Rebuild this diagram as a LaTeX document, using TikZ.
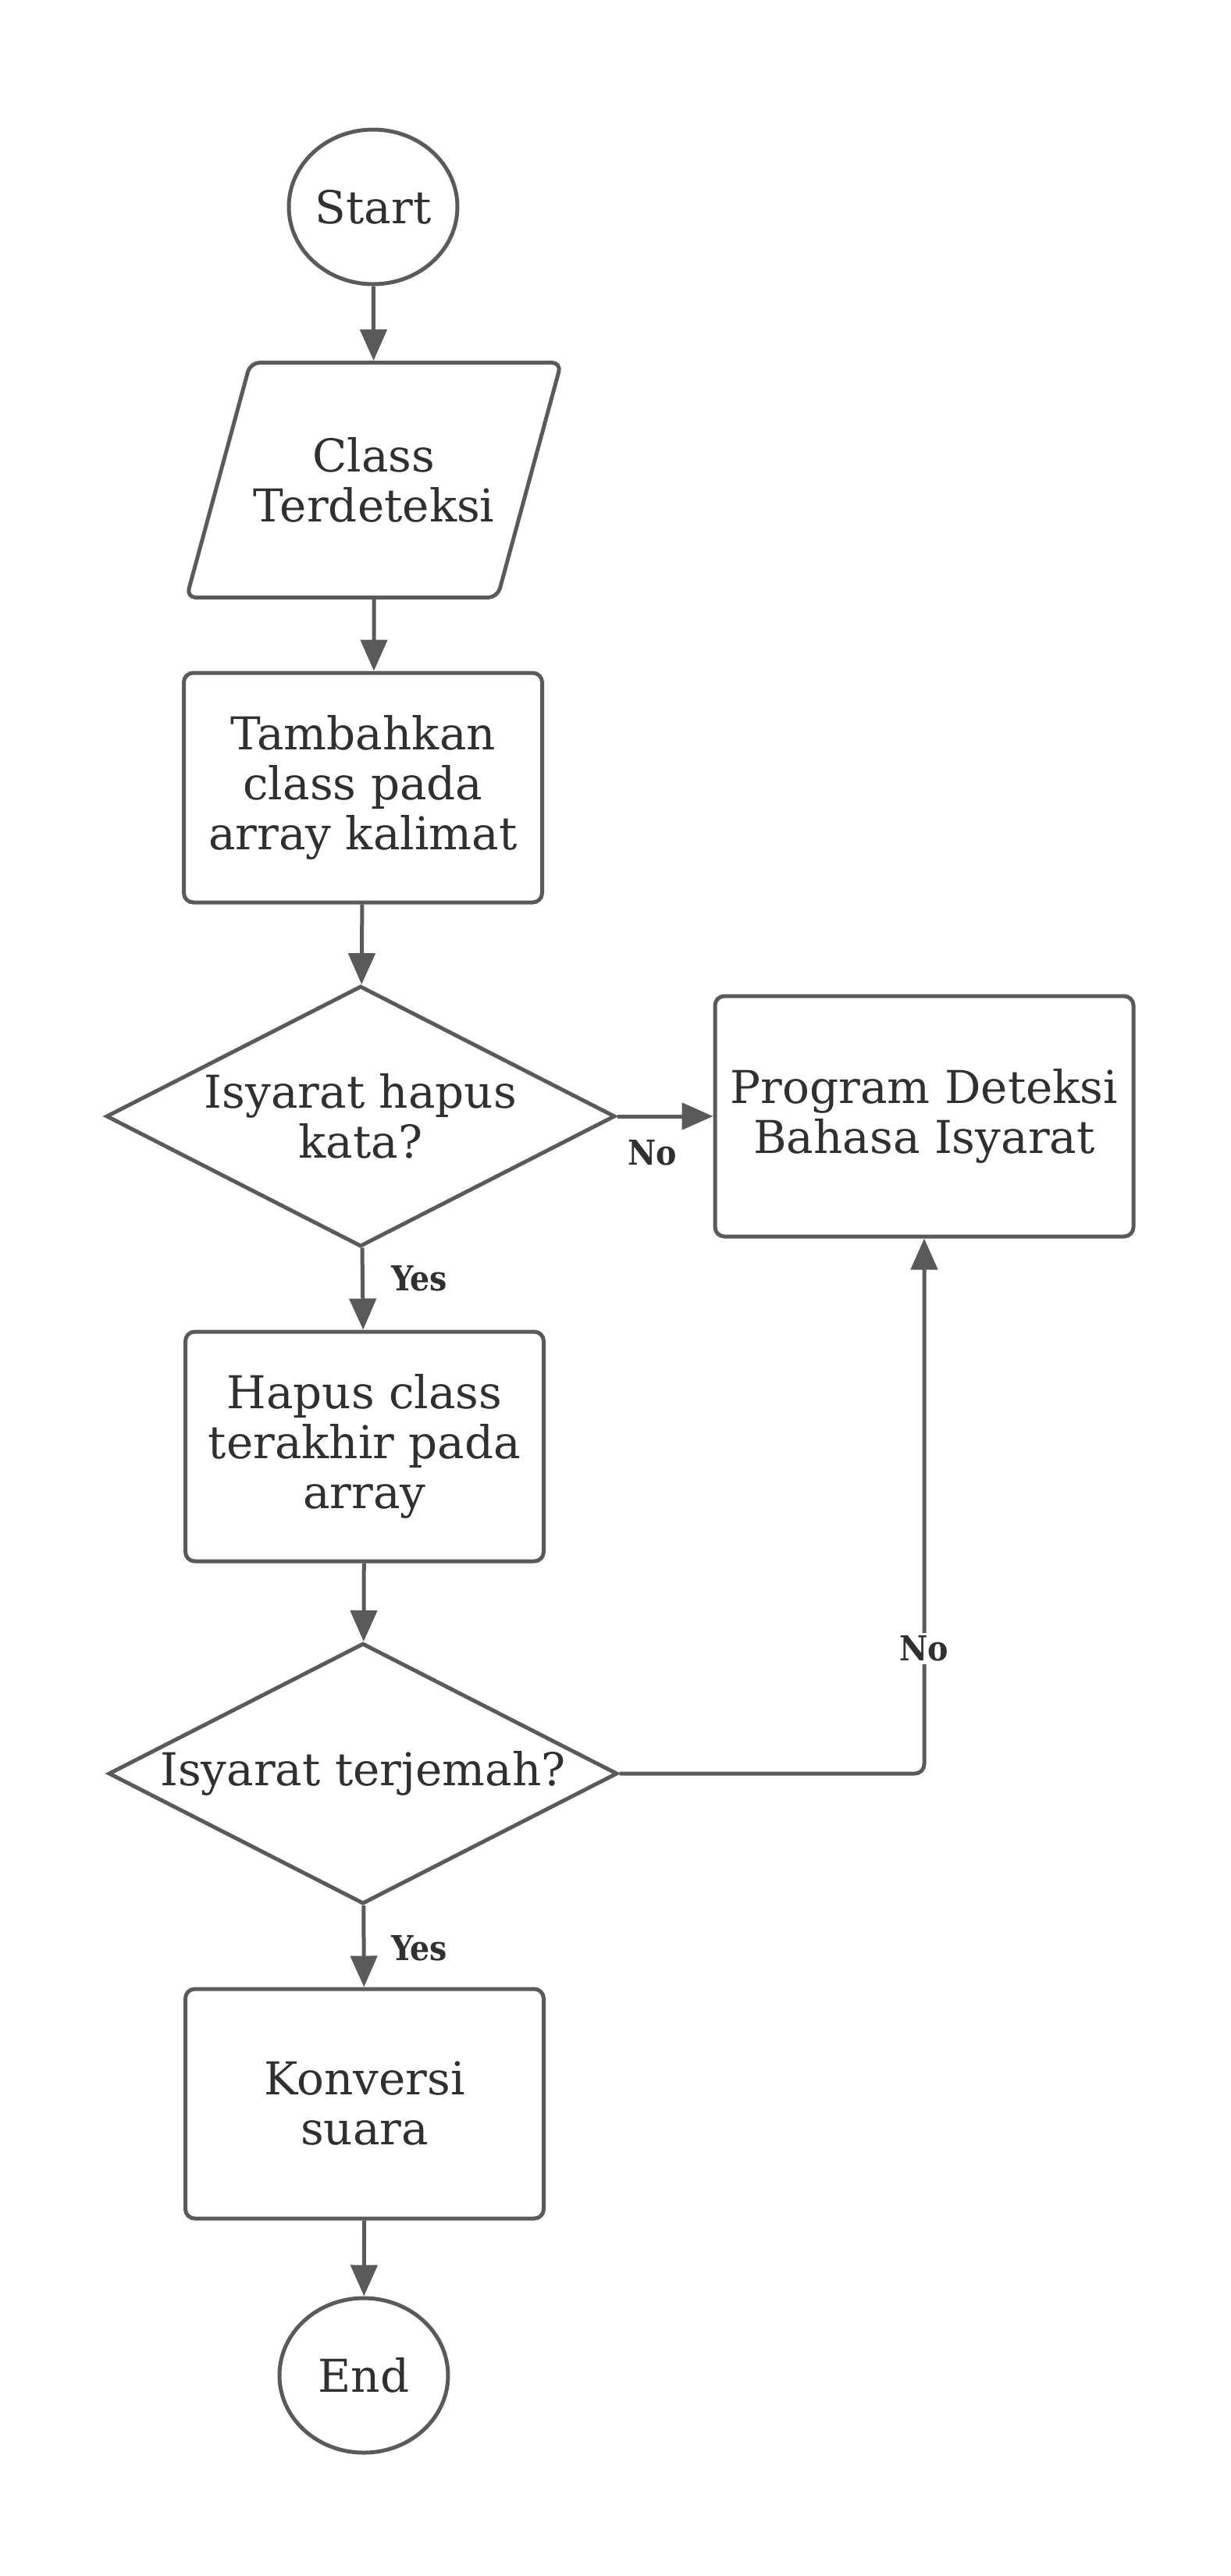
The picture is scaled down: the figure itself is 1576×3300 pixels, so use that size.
\documentclass[tikz,border=0pt]{standalone}
\usepackage{fontspec}
\setmainfont{DejaVu Serif}
\newfontfamily\labelfont{DejaVu Serif Condensed}
\usetikzlibrary{shapes.geometric,arrows.meta}
\definecolor{linegray}{HTML}{5A5A5A}
\definecolor{textgray}{HTML}{303030}

\begin{document}
\begin{tikzpicture}[x=0.25pt,y=-0.25pt,
  every node/.style={text=textgray,align=center,font=\fontsize{14.5}{16}\selectfont},
  terminal/.style={draw=linegray,line width=1.25pt,ellipse,inner sep=0pt,minimum width=54pt,minimum height=49.5pt},
  io/.style={draw=linegray,line width=1.25pt,trapezium,trapezium left angle=74.8,trapezium right angle=105.2,
    trapezium stretches body=true,rounded corners=3pt,inner xsep=0pt,inner ysep=24pt,minimum width=120pt},
  process/.style={draw=linegray,line width=1.25pt,rectangle,rounded corners=3pt,inner sep=0pt,
    minimum width=114.75pt,minimum height=73.5pt},
  decision/.style={draw=linegray,line width=1.25pt,diamond,aspect=2,inner sep=0pt,
    minimum width=163pt,minimum height=83.5pt},
  lbl/.style={font=\labelfont\bfseries\fontsize{11}{13}\selectfont,inner sep=1pt},
  flow/.style={draw=linegray,line width=1.25pt,-{Triangle[length=10pt,width=8.5pt]}}]
  \useasboundingbox (0,0) rectangle (1576,3300);

  \node (start)[terminal] at (478,265) {Start};
  \node (class)[io] at (479,615) {Class\\Terdeteksi};
  \node (tambah)[process] at (465,1009) {Tambahkan\\class pada\\array kalimat};
  \node (hapuskata)[decision] at (462,1430) {Isyarat hapus\\kata?};
  \node (program)[process,minimum width=134pt,minimum height=77pt] at (1184,1430) {Program Deteksi\\Bahasa Isyarat};
  \node (hapus)[process] at (467,1853) {Hapus class\\terakhir pada\\array};
  \node (terjemah)[decision] at (465,2272) {Isyarat terjemah?};
  \node (konversi)[process] at (467,2695) {Konversi\\suara};
  \node (end)[terminal] at (466,3043) {End};

  \draw[flow] (start) -- (class);
  \draw[flow] (class) -- (class |- tambah.north);
  \draw[flow] (tambah) -- (hapuskata);
  \draw[flow] (hapuskata) -- (program);
  \draw[flow] (hapuskata) -- (hapus);
  \draw[flow] (hapus) -- (terjemah);
  \draw[flow] (terjemah) -- (konversi);
  \draw[flow] (konversi) -- (end);
  \draw[flow,rounded corners=3pt] (terjemah.east) -| (program.south);

  \node (no1)[lbl] at (836,1477) {No};
  \node (yes1)[lbl] at (537,1638) {Yes};
  \node (no2)[lbl,fill=white] at (1184,2112) {No};
  \node (yes2)[lbl] at (537,2496) {Yes};
\end{tikzpicture}
\end{document}
